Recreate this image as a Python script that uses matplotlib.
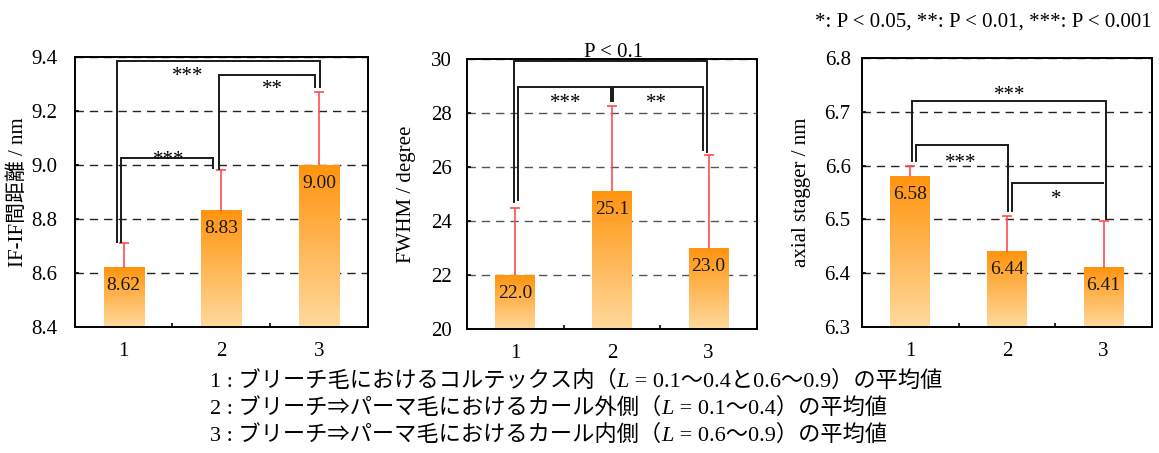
"""
Bar charts of IF-IF spacing, FWHM and axial stagger for the three hair regions
"""

import numpy as np
import matplotlib
matplotlib.use('Agg')
import matplotlib.pyplot as plt
from matplotlib.colors import LinearSegmentedColormap
from matplotlib.offsetbox import TextArea, HPacker, VPacker, AnchoredOffsetbox

plt.rcParams['font.family'] = ['Liberation Serif', 'Noto Sans CJK JP']
plt.rcParams['font.size'] = 15

groups = [1, 2, 3]

spacing_means = [8.62, 8.83, 9.00]
spacing_upper = [8.71, 8.98, 9.27]

fwhm_means = [22.0, 25.1, 23.0]
fwhm_upper = [24.47, 28.27, 26.43]

stagger_means = [6.58, 6.44, 6.41]
stagger_upper = [6.60, 6.507, 6.498]

# brackets: (x left, x right, level, left leg end, right leg end)
spacing_brackets = [(0.93, 3.01, 9.385, 8.716, 9.288),
                    (0.975, 1.92, 9.027, 8.716, 8.989),
                    (1.98, 2.955, 9.333, 8.984, 9.288)]
spacing_marks = [(1.66, 9.31, '***'), (1.465, 9.0, '***'), (2.52, 9.262, '**')]

fwhm_brackets = [(0.986, 2.979, 29.93, 24.71, 26.57),
                 (1.03, 1.986, 28.95, 24.78, 28.46),
                 (2.013, 2.938, 28.95, 28.46, 26.63)]
fwhm_marks = [(1.526, 28.18, '***'), (2.457, 28.18, '**')]

stagger_brackets = [(1.017, 3.021, 6.721, 6.608, 6.50),
                    (1.056, 2.007, 6.638, 6.608, 6.516),
                    (2.049, 2.99, 6.568, 6.516, 6.568)]
stagger_marks = [(2.03, 6.722, '***'), (1.52, 6.595, '***'), (2.514, 6.528, '*')]

BAR_TOP = '#FF940E'
BAR_BOTTOM = '#FFD99C'
bar_cmap = LinearSegmentedColormap.from_list('bar', [BAR_BOTTOM, BAR_TOP])


def gradient_bars(ax, x, heights, base, width=0.41):
    grad = np.linspace(0, 1, 256).reshape(-1, 1)
    bars = ax.bar(x, np.array(heights) - base, width, bottom=base, color='none', zorder=2)
    for bar in bars:
        x0, y0 = bar.get_xy()
        ax.imshow(grad, extent=[x0, x0 + bar.get_width(), y0, y0 + bar.get_height()],
                  origin='lower', aspect='auto', cmap=bar_cmap, zorder=2)


def draw_panel(ax, means, upper, ylim, step, fmt, brackets, marks, ylabel, ypad, grid_color):
    base = ylim[0]
    gradient_bars(ax, groups, means, base)
    means = np.array(means)
    err = np.array(upper) - means
    _, caps, _ = ax.errorbar(groups, means, yerr=[np.zeros_like(err), err], fmt='none',
                             ecolor='#FF4D4D', elinewidth=1.2, capsize=3.3, capthick=1.2,
                             zorder=3)
    caps[0].set_visible(False)  # only the upper cap
    for x, m in zip(groups, means):
        ax.annotate(fmt.format(m), (x, m), xytext=(0, -18), textcoords='offset pixels',
                    ha='center', va='center', fontsize=14, color='#1a1a1a', zorder=4)

    for xl, xr, lev, yl, yr in brackets:
        ax.plot([xl, xl, xr, xr], [yl, lev, lev, yr], color='#1a1a1a', lw=1.4, zorder=4,
                solid_joinstyle='miter')
    for x, y, txt in marks:
        ax.text(x, y, txt, ha='center', va='baseline', fontsize=15, zorder=5)

    ax.set_xlim(0.5, 3.5)
    ax.set_ylim(*ylim)
    ax.set_yticks(np.arange(ylim[0], ylim[1] + step / 2, step))
    ax.yaxis.set_major_formatter(plt.FormatStrFormatter('%.1f' if step < 1 else '%d'))
    ax.set_xticks(groups)
    ax.set_xticks([1.5, 2.5], minor=True)
    ax.tick_params(axis='x', which='major', length=0, pad=11, labelsize=15)
    ax.tick_params(axis='x', which='minor', direction='in', length=3, width=1.2)
    ax.tick_params(axis='y', direction='in', length=3, width=1.2, pad=ypad, labelsize=15)
    ax.yaxis.grid(True, linestyle=(0, (6, 4.3)), color=grid_color, lw=1, zorder=1)
    ax.set_axisbelow(True)
    for sp in ax.spines.values():
        sp.set_linewidth(1.4)
    ax.set_ylabel(ylabel, fontsize=15)


fig = plt.figure(figsize=(11.59, 4.53), dpi=100)
ax1 = fig.add_axes([0.0645, 0.2781, 0.2528, 0.596])
ax2 = fig.add_axes([0.4029, 0.2737, 0.2502, 0.596])
ax3 = fig.add_axes([0.7437, 0.2781, 0.2502, 0.5938])

draw_panel(ax1, spacing_means, spacing_upper, (8.4, 9.4), 0.2, '{:.2f}',
           spacing_brackets, spacing_marks, 'IF-IF間距離 / nm', 12.7, '#222222')
draw_panel(ax2, fwhm_means, fwhm_upper, (20, 30), 2, '{:.1f}',
           fwhm_brackets, fwhm_marks, 'FWHM / degree', 11, '#555555')
draw_panel(ax3, stagger_means, stagger_upper, (6.3, 6.8), 0.1, '{:.2f}',
           stagger_brackets, stagger_marks, 'axial stagger / nm', 8.1, '#222222')

ax1.yaxis.set_label_coords(-0.16, 0.5)
ax2.yaxis.set_label_coords(-0.177, 0.5)
ax3.yaxis.set_label_coords(-0.177, 0.5)

ax2.text(2.02, 30.08, 'P < 0.1', ha='center', va='baseline', fontsize=15)

fig.text(1152 / 1159, 1 - 21.7 / 453, '*: P < 0.05, **: P < 0.01, ***: P < 0.001',
         ha='right', va='center', fontsize=15)

# legend lines below the panels, with italic L
notes = [('1 : ブリーチ毛におけるコルテックス内（', ' = 0.1〜0.4と0.6〜0.9）の平均値'),
         ('2 : ブリーチ⇒パーマ毛におけるカール外側（', ' = 0.1〜0.4）の平均値'),
         ('3 : ブリーチ⇒パーマ毛におけるカール内側（', ' = 0.6〜0.9）の平均値')]
rows = []
for before, after in notes:
    parts = [TextArea(before, textprops=dict(fontsize=16)),
             TextArea('L', textprops=dict(fontsize=16, fontstyle='italic')),
             TextArea(after, textprops=dict(fontsize=16))]
    rows.append(HPacker(children=parts, sep=0, pad=0, align='baseline'))
notes_box = VPacker(children=rows, sep=4, pad=0, align='left')
anchored = AnchoredOffsetbox(loc='upper left', child=notes_box, frameon=False, pad=0,
                             borderpad=0, bbox_to_anchor=(210 / 1159, 1 - 371 / 453),
                             bbox_transform=fig.transFigure)
fig.add_artist(anchored)

fig.savefig('out.png', dpi=100)
